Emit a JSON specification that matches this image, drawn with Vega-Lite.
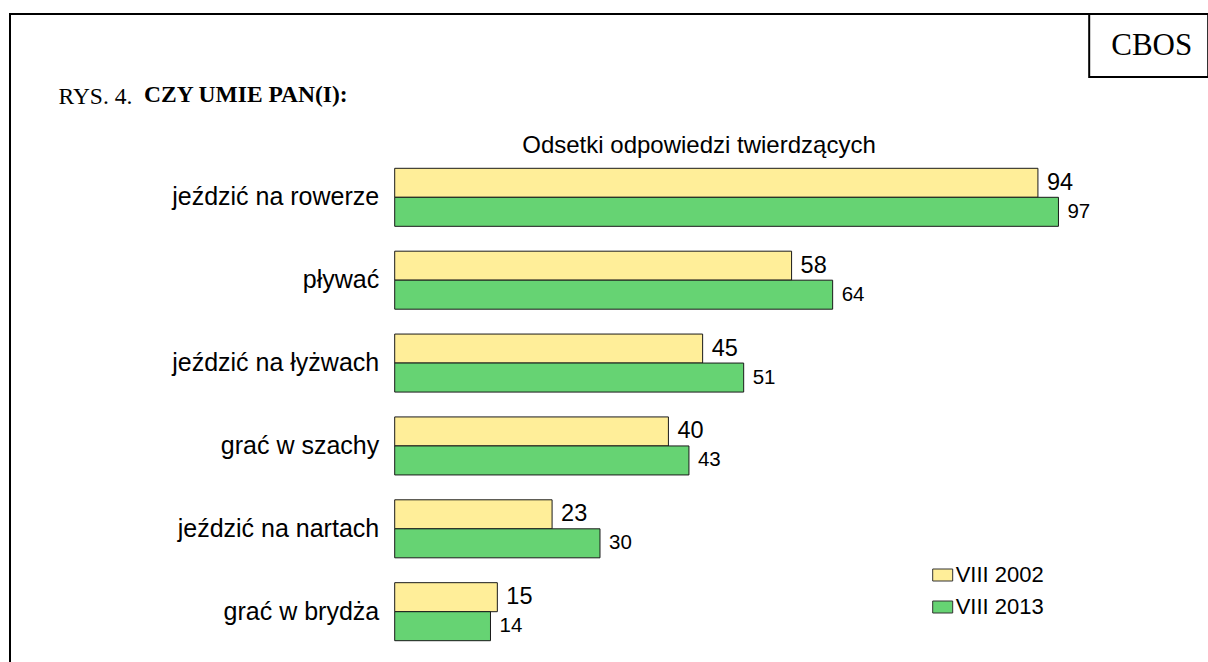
{
  "$schema": "https://vega.github.io/schema/vega-lite/v6.json",
  "width": 1200,
  "height": 650,
  "autosize": {"type": "none"},
  "padding": {"left": 10, "top": 14, "right": -2, "bottom": -2},
  "background": "white",
  "view": {"stroke": "black", "strokeWidth": 2, "fill": "white"},
  "title": {
    "text": "CZY UMIE PAN(I):",
    "anchor": "start",
    "frame": "group",
    "orient": "top",
    "dx": 134,
    "offset": -112,
    "baseline": "alphabetic",
    "font": "Liberation Serif",
    "fontSize": 23.5,
    "fontWeight": "bold",
    "color": "black"
  },
  "data": {
    "values": [
      {"cat": "jeździć na rowerze", "year": "VIII 2002", "value": 94},
      {"cat": "jeździć na rowerze", "year": "VIII 2013", "value": 97},
      {"cat": "pływać", "year": "VIII 2002", "value": 58},
      {"cat": "pływać", "year": "VIII 2013", "value": 64},
      {"cat": "jeździć na łyżwach", "year": "VIII 2002", "value": 45},
      {"cat": "jeździć na łyżwach", "year": "VIII 2013", "value": 51},
      {"cat": "grać w szachy", "year": "VIII 2002", "value": 40},
      {"cat": "grać w szachy", "year": "VIII 2013", "value": 43},
      {"cat": "jeździć na nartach", "year": "VIII 2002", "value": 23},
      {"cat": "jeździć na nartach", "year": "VIII 2013", "value": 30},
      {"cat": "grać w brydża", "year": "VIII 2002", "value": 15},
      {"cat": "grać w brydża", "year": "VIII 2013", "value": 14}
    ]
  },
  "encoding": {
    "y": {
      "field": "cat",
      "type": "nominal",
      "sort": null,
      "scale": {"paddingInner": 0.3, "paddingOuter": 0, "range": [154.3, 626.7], "round": false},
      "axis": {
        "title": "RYS. 4.",
        "titleAngle": 0,
        "titleX": -336.7,
        "titleY": 89,
        "titleAlign": "left",
        "titleBaseline": "alphabetic",
        "titleFont": "Liberation Serif",
        "titleFontSize": 23.5,
        "titleFontWeight": "normal",
        "titleColor": "black",
        "offset": -384.7,
        "domain": false,
        "ticks": false,
        "grid": false,
        "labelPadding": 16,
        "labelFont": "Liberation Sans",
        "labelFontSize": 25,
        "labelColor": "black",
        "labelLimit": 0
      }
    },
    "yOffset": {
      "field": "year",
      "type": "nominal",
      "scale": {"domain": ["VIII 2002", "VIII 2013"], "paddingInner": 0, "paddingOuter": 0}
    },
    "x": {
      "field": "value",
      "type": "quantitative",
      "scale": {"domain": [-56.218, 119.145], "nice": false, "zero": false},
      "axis": {
        "orient": "top",
        "labels": false,
        "ticks": false,
        "domain": false,
        "grid": false,
        "title": "Odsetki odpowiedzi twierdzących",
        "titleX": 688.5,
        "titleY": 138,
        "titleAlign": "center",
        "titleBaseline": "alphabetic",
        "titleFont": "Liberation Sans",
        "titleFontSize": 24,
        "titleFontWeight": "normal",
        "titleColor": "black"
      }
    }
  },
  "layer": [
    {
      "mark": {"type": "bar", "stroke": "#1a1a1a", "strokeWidth": 1},
      "encoding": {
        "color": {
          "field": "year",
          "type": "nominal",
          "scale": {"domain": ["VIII 2002", "VIII 2013"], "range": ["#FFEE99", "#66D373"]},
          "legend": {
            "title": null,
            "orient": "none",
            "legendX": 921.7,
            "legendY": 550,
            "symbolType": "M-1,-0.6H1V0.6H-1Z",
            "symbolSize": 400,
            "symbolStrokeColor": "#333333",
            "symbolStrokeWidth": 1,
            "symbolOpacity": 1,
            "labelFont": "Liberation Sans",
            "labelFontSize": 22,
            "labelColor": "black",
            "labelOffset": 2,
            "rowPadding": 10
          }
        }
      }
    },
    {
      "transform": [{"filter": "datum.year == 'VIII 2002'"}],
      "mark": {"type": "text", "align": "left", "baseline": "middle", "dx": 9, "font": "Liberation Sans", "fontSize": 23.5, "color": "black"},
      "encoding": {
        "text": {"field": "value", "type": "quantitative"},
        "opacity": {
          "datum": "CBOS",
          "type": "ordinal",
          "scale": {"domain": ["CBOS"], "range": [1, 1]},
          "legend": {
            "title": null,
            "orient": "none",
            "legendX": 1079.2,
            "legendY": 0,
            "symbolSize": 0,
            "symbolOpacity": 0,
            "symbolStrokeWidth": 0,
            "labelFont": "Liberation Serif",
            "labelFontSize": 31,
            "labelColor": "black",
            "labelOffset": -25,
            "padding": 16,
            "strokeColor": "black",
            "labelExpr": "datum.label + '\u00a0\u00a0\u00a0\u00a0\u00a0'"
          }
        }
      }
    },
    {
      "transform": [{"filter": "datum.year == 'VIII 2013'"}],
      "mark": {"type": "text", "align": "left", "baseline": "middle", "dx": 9, "font": "Liberation Sans", "fontSize": 20.5, "color": "black"},
      "encoding": {
        "text": {"field": "value", "type": "quantitative"}
      }
    }
  ],
  "config": {
    "legend": {"strokeWidth": 2}
  }
}
